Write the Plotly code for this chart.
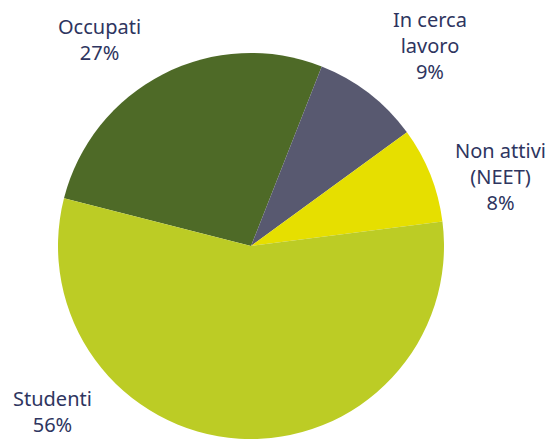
import plotly.graph_objects as go

categories = ["Occupati", "In cerca<br>lavoro", "Non attivi<br>(NEET)", "Studenti"]
values = [27, 9, 8, 56]
colors = ["#4E6A27", "#585970", "#E6DF00", "#BCCC25"]
# label anchor points (pixels in the 552x439 canvas)
label_pos = [(99, 39), (430, 45), (500, 176), (52, 411)]

W, H = 552, 439
cx, cy, r = 251, 246, 193

fig = go.Figure(go.Pie(
    labels=categories,
    values=values,
    marker=dict(colors=colors, line=dict(width=0)),
    sort=False,
    direction="clockwise",
    rotation=284.3,
    textinfo="none",
    hoverinfo="label+percent",
    domain=dict(x=[(cx - r) / W, (cx + r) / W], y=[(H - cy - r) / H, (H - cy + r) / H]),
    showlegend=False,
))

total = sum(values)
for lab, v, (px, py) in zip(categories, values, label_pos):
    fig.add_annotation(
        x=px / W, y=1 - py / H, xref="paper", yref="paper",
        text=f"{lab}<br>{round(100 * v / total)}%",
        showarrow=False, xanchor="center", yanchor="middle",
        font=dict(family="Noto Sans, sans-serif", size=20, color="#2E3560"),
        align="center",
    )

fig.update_layout(
    width=W, height=H,
    margin=dict(l=0, r=0, t=0, b=0),
    paper_bgcolor="white", plot_bgcolor="white",
)
fig.write_html(
    "out.html",
    config={"displayModeBar": False},
    post_script="document.body.style.margin='0';document.body.style.overflow='hidden';",
)
